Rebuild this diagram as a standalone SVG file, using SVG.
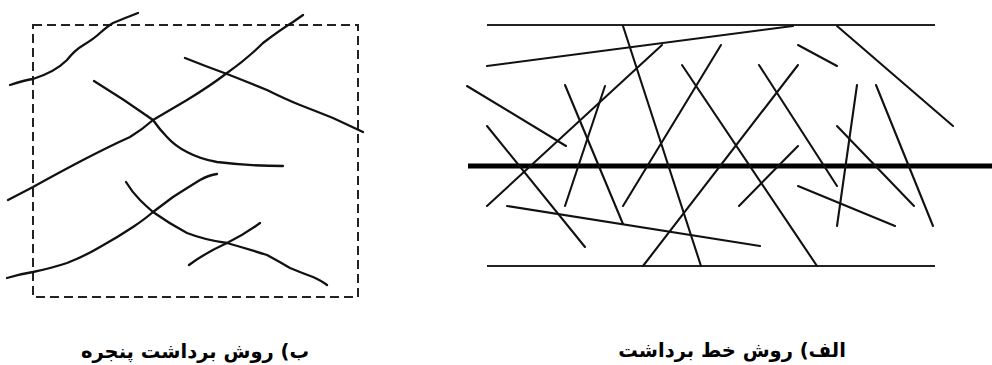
<svg xmlns="http://www.w3.org/2000/svg" width="992" height="365" viewBox="0 0 992 365">
<style>
.c{fill:none;stroke:#111;stroke-width:2.3;stroke-linecap:round;stroke-linejoin:round}
.l{fill:none;stroke:#111;stroke-width:2.1;stroke-linecap:round}
.b{fill:none;stroke:#222;stroke-width:1.8}
.frame{fill:none;stroke:#222;stroke-width:2;stroke-dasharray:9 5}
.cap{font-family:"DejaVu Sans",sans-serif;font-weight:bold;font-size:19.5px;fill:#000}
</style>
<rect width="992" height="365" fill="#fff"/>
<g id="window-method">
<rect class="frame" x="33" y="25" width="325" height="272"/>
<path class="c" d="M10,85 Q25,80 33,79 Q55,72 67,60 Q75,50 82,46 Q95,38 100,33 Q108,26 113,23 Q125,18 138,13"/>
<path class="c" d="M8,200 L33,187 Q60,172 83,160 Q110,146 130,137 Q143,129 153,120 Q170,110 187,100 Q210,86 227,73 Q248,58 263,43 Q280,30 293,22 L303,15"/>
<path class="c" d="M185,58 Q205,66 227,74 Q250,83 267,90 Q285,99 300,105 Q318,112 333,118 Q350,126 363,132"/>
<path class="c" d="M94,81 Q125,100 153,120 Q160,130 167,137 Q175,146 187,152 Q200,159 217,162 Q250,166 283,166"/>
<path class="c" d="M7,278 Q20,274 33,272 Q52,268 67,263 Q85,256 100,247 Q118,237 133,227 Q145,219 153,212 Q165,203 173,197 Q187,188 200,180 Q209,175 217,174"/>
<path class="c" d="M126,182 Q132,192 140,200 Q146,206 153,212 Q170,224 187,233 Q205,240 227,243 Q248,249 267,255 Q280,262 290,268 Q302,273 313,277 Q322,281 327,285"/>
<path class="c" d="M189,265 Q205,253 227,243 Q245,234 260,223"/>
</g>
<g id="line-method">
<line class="b" x1="487" y1="25" x2="935" y2="25"/>
<line class="b" x1="487" y1="266" x2="935" y2="266"/>
<line x1="468" y1="166" x2="992" y2="166" stroke="#000" stroke-width="5"/>
</g>
<g id="connectors">
<line class="l" x1="487" y1="66" x2="793" y2="26"/>
<line class="l" x1="623" y1="26" x2="701" y2="266"/>
<line class="l" x1="662" y1="45" x2="487" y2="206"/>
<line class="l" x1="467" y1="86" x2="566" y2="146"/>
<line class="l" x1="487" y1="126" x2="585" y2="247"/>
<line class="l" x1="565" y1="85" x2="623" y2="224"/>
<line class="l" x1="605" y1="86" x2="565" y2="206"/>
<line class="l" x1="507" y1="206" x2="760" y2="246"/>
<line class="l" x1="721" y1="45" x2="623" y2="206"/>
<line class="l" x1="682" y1="65" x2="817" y2="266"/>
<line class="l" x1="759" y1="65" x2="837" y2="186"/>
<line class="l" x1="798" y1="65" x2="643" y2="266"/>
<line class="l" x1="798" y1="45" x2="837" y2="66"/>
<line class="l" x1="837" y1="26" x2="953" y2="126"/>
<line class="l" x1="798" y1="146" x2="739" y2="206"/>
<line class="l" x1="798" y1="186" x2="895" y2="226"/>
<line class="l" x1="857" y1="85" x2="837" y2="226"/>
<line class="l" x1="837" y1="126" x2="914" y2="206"/>
<line class="l" x1="876" y1="85" x2="933" y2="226"/>
</g>
<text class="cap" x="195" y="358" text-anchor="middle" direction="rtl">ب) روش برداشت پنجره</text>
<text class="cap" x="732" y="357" text-anchor="middle" direction="rtl">الف) روش خط برداشت</text>
</svg>
